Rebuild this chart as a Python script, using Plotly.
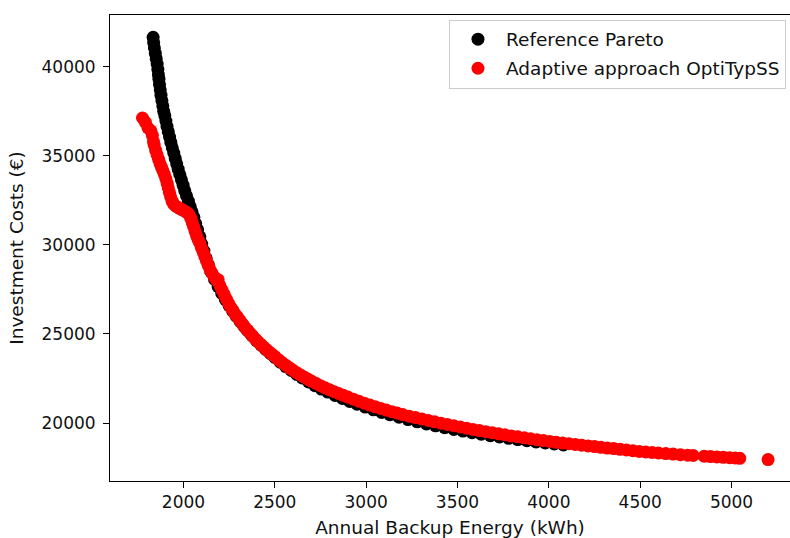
import plotly.graph_objects as go

# Reference Pareto front (black)
ref_energy = [
    1834, 1837, 1841, 1846, 1851, 1856, 1860, 1863, 1866, 1869, 1873, 1877, 1882, 1887, 1892,
    1898, 1904, 1910, 1917, 1924, 1931, 1939, 1947, 1955, 1963, 1971, 1980, 1989, 1998, 2007,
    2017, 2027, 2037, 2047, 2057, 2067, 2078, 2090, 2100, 2112, 2124, 2136, 2150, 2170, 2190,
    2210, 2230, 2250, 2270, 2290, 2310, 2330, 2350, 2375, 2400, 2425, 2450, 2475, 2500, 2530,
    2560, 2590, 2620, 2650, 2685, 2720, 2755, 2790, 2830, 2870, 2910, 2950, 2995, 3040, 3085,
    3130, 3180, 3230, 3280, 3330, 3380, 3430, 3480, 3530, 3580, 3630, 3680, 3730, 3780, 3830,
    3880, 3930, 3980, 4030, 4080,
]
ref_cost = [
    41650, 41350, 41050, 40750, 40450, 40150, 39850, 39550, 39300, 39000, 38700, 38400, 38100, 37800, 37500,
    37250, 36950, 36650, 36350, 36050, 35750, 35450, 35150, 34850, 34550, 34250, 33950, 33650, 33350, 33050,
    32750, 32450, 32150, 31850, 31550, 31200, 30850, 30450, 30050, 29650, 29250, 28900, 28493, 28060, 27656,
    27278, 26924, 26592, 26280, 25986, 25709, 25447, 25198, 24906, 24632, 24375, 24132, 23904, 23688, 23415,
    23170, 22950, 22730, 22530, 22310, 22100, 21910, 21740, 21550, 21380, 21215, 21060, 20900, 20745, 20600,
    20470, 20330, 20195, 20070, 19955, 19845, 19740, 19640, 19550, 19460, 19375, 19295, 19220, 19145, 19075,
    19010, 18945, 18885, 18825, 18770,
]

# Adaptive approach OptiTypSS (red)
ada_energy = [
    1776, 1792, 1806, 1822, 1830, 1836, 1840, 1848, 1856, 1864, 1872, 1880, 1888, 1896, 1904,
    1911, 1917, 1923, 1930, 1938, 1947, 1958, 1970, 1982, 1994, 2006, 2018, 2030, 2040, 2048,
    2056, 2064, 2072, 2080, 2089, 2098, 2108, 2117, 2126, 2136, 2146, 2158, 2170, 2182, 2190,
    2200, 2212, 2224, 2236, 2248, 2260, 2272, 2284, 2296, 2310, 2324, 2338, 2352, 2366, 2380,
    2395, 2410, 2425, 2440, 2455, 2470, 2485, 2500, 2520, 2540, 2560, 2580, 2600, 2620, 2640,
    2660, 2680, 2700, 2725, 2750, 2775, 2800, 2825, 2850, 2875, 2900, 2930, 2960, 2990, 3020,
    3050, 3080, 3110, 3140, 3170, 3200, 3235, 3270, 3305, 3340, 3375, 3410, 3445, 3480, 3515,
    3550, 3585, 3620, 3655, 3690, 3725, 3760, 3795, 3830, 3865, 3900, 3935, 3970, 4005, 4040,
    4075, 4110, 4145, 4180, 4215, 4250, 4285, 4320, 4355, 4390, 4425, 4460, 4495, 4530, 4565,
    4600, 4640, 4680, 4720, 4760, 4790, 4850, 4885, 4920, 4955, 4990, 5020, 5045, 5200,
]
ada_cost = [
    37120, 36880, 36560, 36400, 36150, 35800, 35600, 35300, 35050, 34800, 34550, 34350, 34150, 33950, 33700,
    33450, 33200, 32950, 32700, 32450, 32280, 32180, 32100, 32030, 31970, 31900, 31820, 31720, 31500, 31250,
    31000, 30750, 30500, 30300, 30100, 29850, 29600, 29350, 29100, 28850, 28600, 28380, 28180, 28000, 28050,
    27700, 27450, 27200, 26950, 26700, 26480, 26300, 26100, 25950, 25750, 25550, 25350, 25200, 25030, 24870,
    24700, 24540, 24400, 24260, 24120, 23990, 23860, 23740, 23560, 23400, 23250, 23100, 22960, 22830, 22700,
    22590, 22470, 22360, 22230, 22100, 21980, 21870, 21760, 21660, 21560, 21460, 21340, 21230, 21120, 21010,
    20910, 20820, 20730, 20640, 20560, 20480, 20390, 20310, 20230, 20150, 20070, 19990, 19920, 19850, 19780,
    19710, 19640, 19580, 19520, 19460, 19400, 19340, 19280, 19230, 19170, 19120, 19070, 19020, 18970, 18920,
    18880, 18840, 18800, 18760, 18720, 18680, 18640, 18600, 18570, 18530, 18490, 18450, 18410, 18380, 18350,
    18320, 18290, 18260, 18230, 18200, 18180, 18140, 18120, 18100, 18080, 18060, 18040, 18020, 17950,
]

x_ticks = [2000, 2500, 3000, 3500, 4000, 4500, 5000]
y_ticks = [20000, 25000, 30000, 35000, 40000]

FONT = "DejaVu Sans"
TICK_FS = 17
LABEL_FS = 18.5

fig = go.Figure()
fig.add_trace(go.Scatter(
    x=ref_energy, y=ref_cost, mode="markers", name="Reference Pareto",
    legendgroup="ref",
    marker=dict(color="black", size=13, line=dict(width=0)),
))
fig.add_trace(go.Scatter(
    x=ada_energy, y=ada_cost, mode="markers", name="Adaptive approach OptiTypSS",
    legendgroup="ada",
    marker=dict(color="#ff0000", size=13, line=dict(width=0)),
))

fig.update_layout(
    width=790, height=538,
    margin=dict(l=110, r=0, t=15, b=57, autoexpand=False),
    paper_bgcolor="white", plot_bgcolor="white",
    font=dict(family=FONT, size=TICK_FS, color="black"),
    showlegend=True,
    legend=dict(
        x=0.4985, y=0.99, xanchor="left", yanchor="top",
        bgcolor="rgba(255,255,255,0.8)", bordercolor="#cccccc", borderwidth=1,
        font=dict(family=FONT, size=LABEL_FS, color="#111111"),
        itemwidth=46, tracegroupgap=2, traceorder="grouped",
    ),
    xaxis=dict(
        range=[1598, 5320], tickvals=x_ticks, tickformat="d",
        showgrid=False, zeroline=False, automargin=False,
        showline=True, linecolor="black", linewidth=1, mirror=True,
        ticks="outside", ticklen=6, tickwidth=1, tickcolor="black",
        tickfont=dict(family=FONT, size=TICK_FS, color="#111111"),
        title=dict(text="Annual Backup Energy (kWh)",
                   font=dict(family=FONT, size=LABEL_FS, color="#111111"), standoff=9),
    ),
    yaxis=dict(
        range=[16750, 42900], tickvals=y_ticks, tickformat="d",
        showgrid=False, zeroline=False, automargin=False,
        showline=True, linecolor="black", linewidth=1, mirror=False,
        ticks="outside", ticklen=6, tickwidth=1, tickcolor="black",
        ticklabelstandoff=4,
        tickfont=dict(family=FONT, size=TICK_FS, color="#111111"),
        title=dict(text="Investment Costs (€)",
                   font=dict(family=FONT, size=LABEL_FS, color="#111111"), standoff=13),
    ),
)

fig.write_html("out.html", config={"displayModeBar": False},
               post_script="document.body.style.margin='0';")
